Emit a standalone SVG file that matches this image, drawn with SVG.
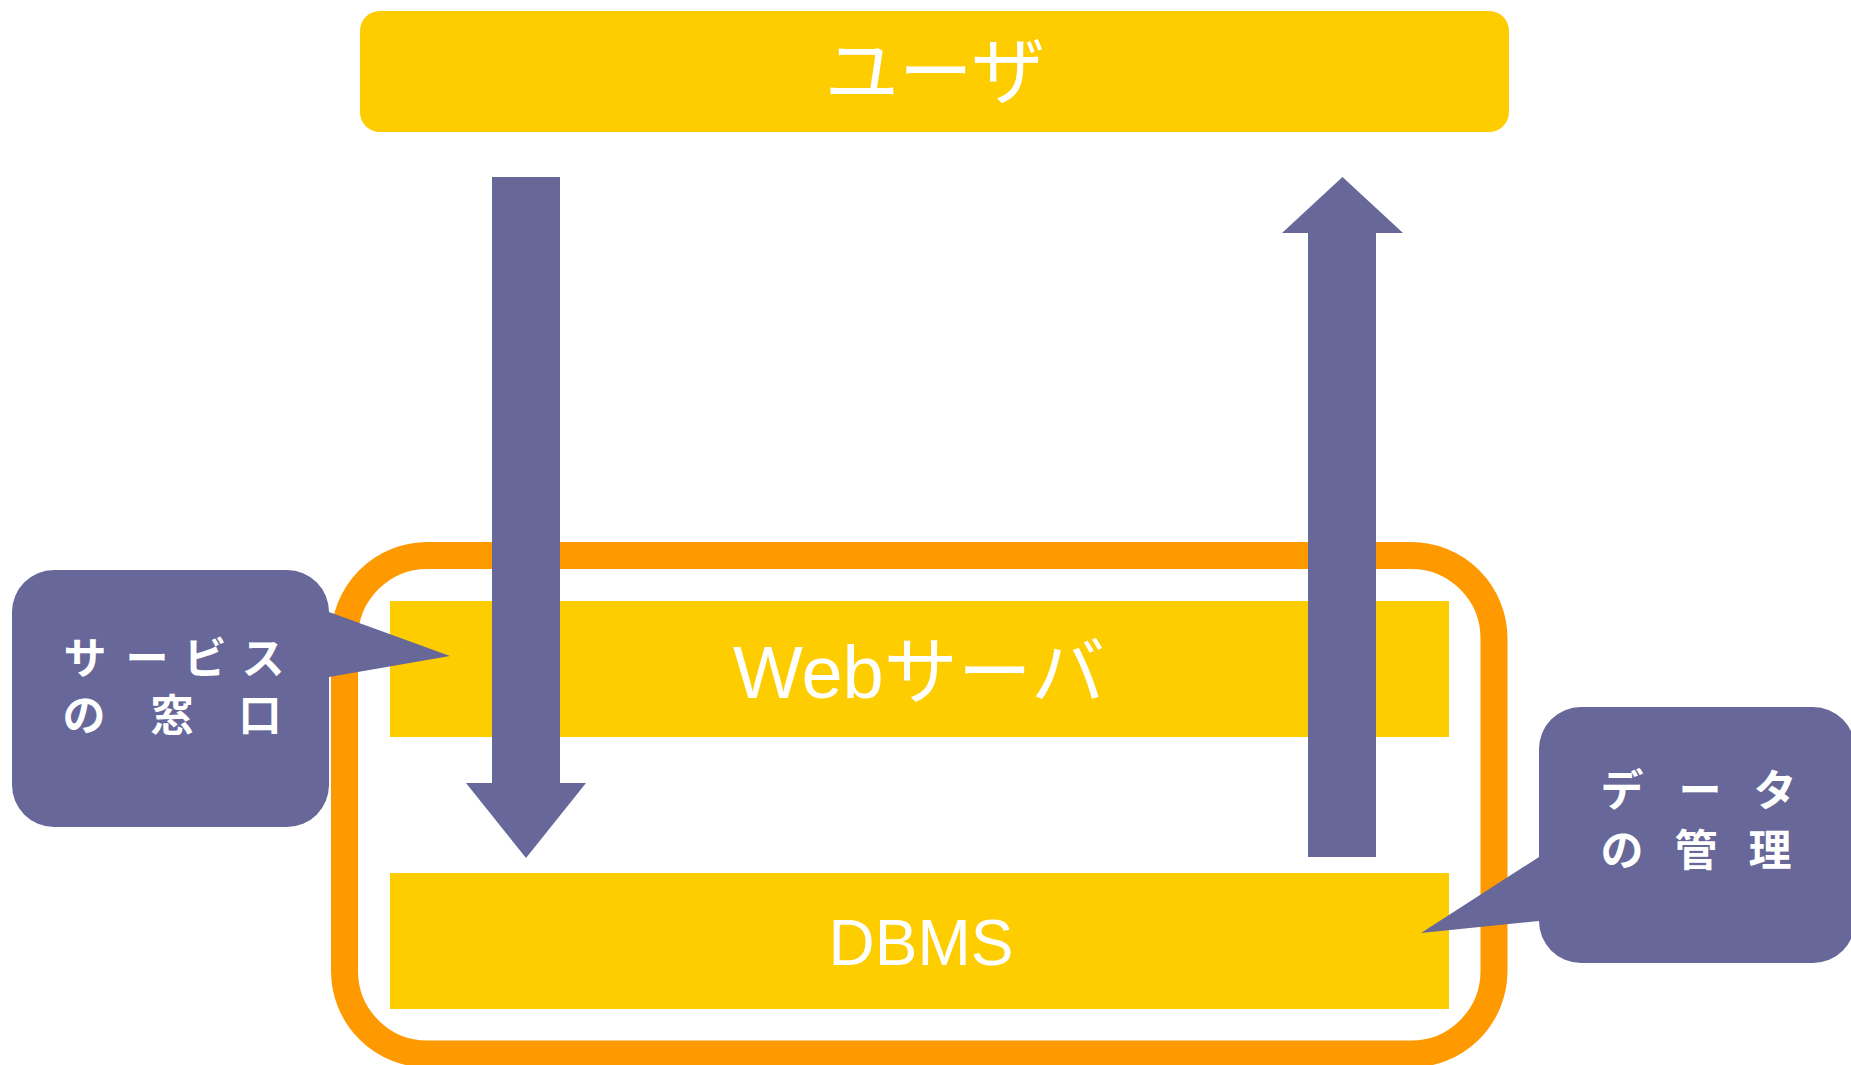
<svg xmlns="http://www.w3.org/2000/svg" width="1851" height="1065" viewBox="0 0 1851 1065">
  <style>
    .yel { fill: #FECD00; }
    .pur { fill: #676799; }
    .txt { font-family: "Liberation Sans", "Noto Sans CJK JP", sans-serif; fill: #FFFFFF; text-anchor: middle; }
    .ctxt { font-family: "Noto Sans CJK JP", "Liberation Sans", sans-serif; fill: #FFFFFF; text-anchor: middle; font-size: 43px; font-weight: bold; }
  </style>
  <rect width="1851" height="1065" fill="#FFFFFF"/>

  <g id="user">
    <rect class="yel" x="360" y="11" width="1149" height="121" rx="20" ry="20"/>
    <text class="txt" x="935" y="98" font-size="74">ユーザ</text>
  </g>

  <g id="container">
    <rect x="344.5" y="555.5" width="1149.5" height="498.5" rx="83" ry="83" fill="none" stroke="#FF9900" stroke-width="27"/>
  </g>

  <g id="webserver">
    <rect class="yel" x="390" y="601" width="1059" height="136"/>
    <text class="txt" x="919" y="698" font-size="74">Webサーバ</text>
  </g>

  <g id="dbms">
    <rect class="yel" x="390" y="873" width="1059" height="136"/>
    <text class="txt" x="921" y="965" font-size="64">DBMS</text>
  </g>

  <g id="connectors">
    <polygon class="pur" points="492,177 560,177 560,783 586,783 526,858 466,783 492,783"/>
    <polygon class="pur" points="1308,857 1376,857 1376,233 1403,233 1342.5,177 1282,233 1308,233"/>
  </g>

  <g id="callout-service">
    <path class="pur" d="M 54 570 H 287 A 42 42 0 0 1 329 612 L 450 656 L 329 677 V 785 A 42 42 0 0 1 287 827 H 54 A 42 42 0 0 1 12 785 V 612 A 42 42 0 0 1 54 570 Z"/>
    <text class="ctxt" x="85 147 205 263" y="674">サービス</text>
    <text class="ctxt" x="84 172 260" y="731">の窓口</text>
  </g>

  <g id="callout-data">
    <path class="pur" d="M 1581 707 H 1813 A 42 42 0 0 1 1855 749 V 921 A 42 42 0 0 1 1813 963 H 1581 A 42 42 0 0 1 1539 921 L 1421 933 L 1539 857 V 749 A 42 42 0 0 1 1581 707 Z"/>
    <text class="ctxt" x="1622 1700 1775" y="806" font-size="46">データ</text>
    <text class="ctxt" x="1622 1696 1770" y="866" font-size="46">の管理</text>
  </g>
</svg>
